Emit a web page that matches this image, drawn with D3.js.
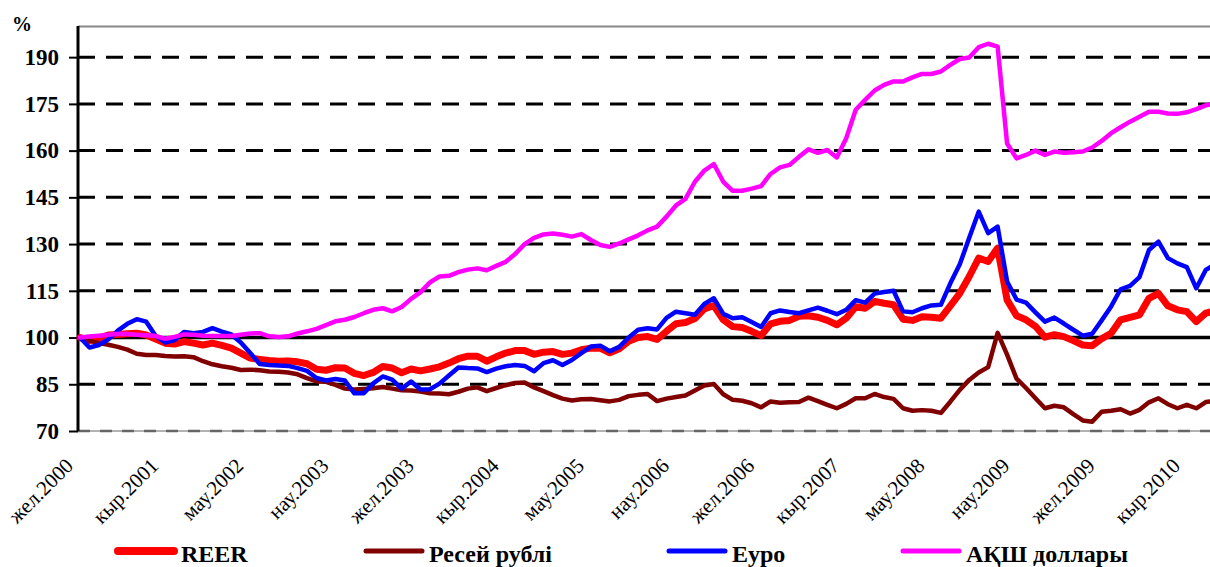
<!DOCTYPE html>
<html lang="kk">
<head>
<meta charset="UTF-8">
<title>REER</title>
<script src="https://d3js.org/d3.v7.min.js"></script>
<style>
  body { margin: 0; background: #fff; }
  svg { display: block; font-family: "Times New Roman", "Liberation Serif", serif; }
  svg text { font-family: "Times New Roman", "Liberation Serif", serif; }
  .y-axis text { font-size: 23px; font-weight: bold; }
  .x-axis text { font-size: 21px; }
  .legend text { font-size: 24px; font-weight: bold; }
</style>
</head>
<body>
<svg id="chart" width="1210" height="567"></svg>
<script>
// tick labels every 9 months, starting Dec 2000
const tickLabels = ["жел.2000", "кыр.2001", "мау.2002", "нау.2003", "жел.2003", "кыр.2004", "мау.2005",
  "нау.2006", "жел.2006", "кыр.2007", "мау.2008", "нау.2009", "жел.2009", "кыр.2010"];
const tickIndex = tickLabels.map((d, i) => i * 9);

const yTicks = [70, 85, 100, 115, 130, 145, 160, 175, 190];

const reer = [100, 99.0, 99.8, 100.8, 101.0, 101.2, 101.4, 100.8, 99.5, 98.2,
  97.9, 98.7, 98.2, 97.6, 98.2, 97.5, 96.6, 95.0, 93.4, 93.0,
  92.6, 92.4, 92.5, 92.2, 91.6, 89.8, 89.5, 90.3, 90.2, 88.5,
  87.8, 88.8, 90.7, 90.2, 88.7, 89.9, 89.3, 89.9, 90.6, 91.8,
  93.2, 94.0, 94.0, 92.4, 93.8, 95.0, 95.8, 95.8, 94.6, 95.3,
  95.5, 94.6, 95.0, 96.1, 96.6, 96.6, 95.1, 96.4, 98.8, 100.0,
  100.3, 99.4, 102.0, 104.4, 104.8, 106.1, 109.2, 110.3, 105.7, 103.5,
  103.2, 102.0, 100.6, 104.4, 105.2, 105.5, 106.8, 107.0, 106.5, 105.5,
  104.1, 106.2, 109.9, 109.4, 111.6, 111.0, 110.5, 105.9, 105.5, 106.7,
  106.5, 106.2, 110.2, 114.2, 119.6, 125.5, 124.4, 128.7, 112.1, 107.0,
  105.7, 103.6, 100.1, 100.9, 100.3, 99.0, 97.6, 97.4, 99.6, 101.4,
  105.7, 106.5, 107.3, 112.6, 114.2, 110.2, 108.9, 108.3, 105.1, 107.8, 108.6];

const rub = [100, 99.0, 98.2, 97.7, 97.0, 96.1, 94.8, 94.4, 94.4, 94.1,
  93.9, 94.0, 93.7, 92.4, 91.4, 90.8, 90.3, 89.6, 89.7, 89.5,
  89.1, 89.0, 88.8, 88.2, 87.0, 85.9, 85.8, 84.8, 83.6, 83.3,
  83.5, 83.7, 84.1, 83.6, 83.1, 83.0, 82.7, 82.1, 82.0, 81.8,
  82.6, 83.6, 84.0, 82.8, 83.8, 84.7, 85.4, 85.6, 84.0, 82.8,
  81.5, 80.4, 79.8, 80.2, 80.3, 79.9, 79.5, 80.0, 81.2, 81.6,
  81.9, 79.6, 80.4, 80.9, 81.4, 83.0, 84.6, 85.1, 81.8, 80.0,
  79.7, 78.9, 77.6, 79.5, 79.1, 79.2, 79.3, 80.7, 79.6, 78.4,
  77.3, 78.7, 80.5, 80.5, 81.9, 80.9, 80.3, 77.3, 76.5, 76.7,
  76.5, 75.8, 79.4, 83.2, 86.4, 88.8, 90.5, 101.5, 94.5, 86.8,
  83.8, 80.5, 77.3, 78.1, 77.6, 75.4, 73.4, 73.0, 76.2, 76.5,
  77.0, 75.6, 76.8, 79.2, 80.5, 78.6, 77.3, 78.4, 77.3, 79.3, 79.7];

const eur = [100, 96.8, 97.6, 99.4, 102.2, 104.4, 105.9, 105.1, 100.5, 98.4,
  99.2, 101.8, 101.4, 101.8, 103.0, 101.9, 101.0, 98.4, 95.0, 91.5,
  91.2, 91.0, 90.9, 90.2, 89.3, 87.0, 86.2, 86.7, 86.2, 82.1,
  82.1, 85.3, 87.5, 86.5, 83.6, 85.9, 83.3, 83.4, 85.2, 87.8,
  90.4, 90.2, 90.1, 88.9, 90.0, 90.8, 91.2, 90.9, 89.2, 91.8,
  92.7, 91.2, 92.8, 95.0, 97.1, 97.4, 95.6, 97.0, 100.0, 102.5,
  103.0, 102.6, 106.3, 108.3, 107.8, 107.3, 110.8, 112.6, 107.6, 106.2,
  106.5, 105.0, 103.4, 107.8, 108.7, 108.2, 107.8, 108.7, 109.6, 108.6,
  107.5, 108.9, 112.0, 111.2, 114.1, 114.6, 115.0, 108.4, 108.1, 109.4,
  110.3, 110.5, 117.4, 123.5, 132.0, 140.4, 133.5, 135.6, 118.0, 112.2,
  111.2, 108.1, 105.1, 106.4, 104.5, 102.5, 100.6, 101.2, 105.5, 110.0,
  115.5, 116.6, 119.4, 128.1, 130.8, 125.5, 123.8, 122.6, 115.8, 121.7, 123.5];

const usd = [100, 100.3, 100.6, 100.9, 101.2, 101.1, 100.9, 100.7, 100.5, 99.6,
  100.2, 101.0, 100.9, 100.6, 100.5, 100.5, 100.5, 100.9, 101.3, 101.4,
  100.4, 100.2, 100.4, 101.3, 102.0, 102.8, 104.0, 105.2, 105.7, 106.6,
  107.8, 108.9, 109.4, 108.4, 109.8, 112.4, 114.6, 117.7, 119.6, 119.8,
  121.0, 121.8, 122.2, 121.6, 123.0, 124.3, 126.8, 130.0, 132.0, 133.1,
  133.4, 133.0, 132.4, 133.2, 131.3, 129.7, 129.1, 130.2, 131.5, 132.8,
  134.4, 135.6, 138.8, 142.4, 144.5, 150.0, 153.6, 155.7, 150.0, 147.1,
  147.1, 147.8, 148.6, 152.5, 154.6, 155.4, 158.0, 160.4, 159.3, 160.2,
  157.8, 164.0, 173.1, 176.3, 179.3, 181.1, 182.2, 182.2, 183.5, 184.6,
  184.6, 185.4, 187.5, 189.4, 189.9, 193.2, 194.3, 193.4, 162.3, 157.5,
  158.6, 160.0, 158.6, 159.7, 159.3, 159.5, 159.7, 161.0, 163.1, 165.6,
  167.5, 169.3, 170.9, 172.5, 172.5, 171.9, 171.8, 172.3, 173.3, 174.5, 175.3];

const seriesNames = ["REER", "Ресей рублі", "Еуро", "АҚШ доллары"];
const seriesColors = ["#ff0000", "#800000", "#0000ff", "#ff00ff"];
const seriesWidths = [7, 4.5, 4.5, 4.5];
const legendWidths = [8, 5, 5, 5];
const seriesData = [reer, rub, eur, usd];

const svg = d3.select("#chart");
const plotLeft = 78, plotTop = 26, plotBottom = 431;

const x = d3.scaleLinear().domain([0, 120]).range([80, 80 + 9.46 * 120]);
const y = d3.scaleLinear().domain([70, 200]).range([plotBottom, plotTop]);

// top border
svg.append("line")
  .attr("x1", plotLeft).attr("x2", 1210)
  .attr("y1", plotTop + 0.5).attr("y2", plotTop + 0.5)
  .attr("stroke", "#888").attr("stroke-width", 2);

// gridlines
svg.append("g").selectAll("line")
  .data(yTicks.filter(v => v !== 70 && v !== 100))
  .join("line")
  .attr("x1", plotLeft).attr("x2", 1210)
  .attr("y1", d => y(d)).attr("y2", d => y(d))
  .attr("stroke", "#000").attr("stroke-width", 3)
  .attr("stroke-dasharray", "17 11");

// 100 line
svg.append("line")
  .attr("x1", plotLeft).attr("x2", 1210)
  .attr("y1", y(100)).attr("y2", y(100))
  .attr("stroke", "#000").attr("stroke-width", 3.5);

// bottom axis line (gray)
svg.append("line")
  .attr("x1", plotLeft).attr("x2", 1210)
  .attr("y1", plotBottom).attr("y2", plotBottom)
  .attr("stroke", "#999").attr("stroke-width", 1.5);
svg.append("line")
  .attr("x1", plotLeft).attr("x2", 1210)
  .attr("y1", plotBottom).attr("y2", plotBottom)
  .attr("stroke", "#666").attr("stroke-width", 2.5)
  .attr("stroke-dasharray", "12 10");

// y axis
const yAxis = svg.append("g")
  .attr("class", "y-axis")
  .attr("transform", `translate(${plotLeft},0)`)
  .call(d3.axisLeft(y).tickValues(yTicks).tickSize(9).tickPadding(10).tickSizeOuter(0));
yAxis.attr("font-family", null).attr("font-size", null);
yAxis.select(".domain").attr("stroke", "#000").attr("stroke-width", 3)
  .attr("d", `M0,${plotTop}V${plotBottom}`);
yAxis.selectAll(".tick line").attr("stroke", "#000").attr("stroke-width", 2);
yAxis.selectAll("text").attr("fill", "#000");

svg.append("text")
  .attr("x", 12).attr("y", 31)
  .attr("font-size", 20).attr("font-weight", "bold")
  .text("%");

// x axis labels
const xAxis = svg.append("g")
  .attr("class", "x-axis")
  .attr("transform", `translate(0,${plotBottom})`)
  .call(d3.axisBottom(x).tickValues(tickIndex).tickFormat((d, i) => tickLabels[i]).tickSize(0));
xAxis.attr("font-family", null).attr("font-size", null);
xAxis.select(".domain").remove();
xAxis.selectAll("text")
  .attr("fill", "#000")
  .attr("text-anchor", "end")
  .attr("dy", null)
  .attr("y", 0)
  .attr("transform", "translate(-6,36) rotate(-45)");

// lines
const line = d3.line().x((d, i) => x(i)).y(d => y(d));
seriesData.forEach((data, k) => {
  svg.append("path")
    .datum(data)
    .attr("fill", "none")
    .attr("stroke", seriesColors[k])
    .attr("stroke-width", seriesWidths[k])
    .attr("stroke-linejoin", "round")
    .attr("stroke-linecap", "round")
    .attr("d", line);
});

// legend
const legendX = [118, 366, 669, 903];
const legend = svg.append("g").attr("class", "legend");
seriesNames.forEach((name, k) => {
  legend.append("line")
    .attr("x1", legendX[k]).attr("x2", legendX[k] + 56)
    .attr("y1", 551).attr("y2", 551)
    .attr("stroke", seriesColors[k])
    .attr("stroke-width", legendWidths[k])
    .attr("stroke-linecap", "round");
  legend.append("text")
    .attr("x", legendX[k] + 63).attr("y", 562)
    .text(name);
});
</script>
</body>
</html>
